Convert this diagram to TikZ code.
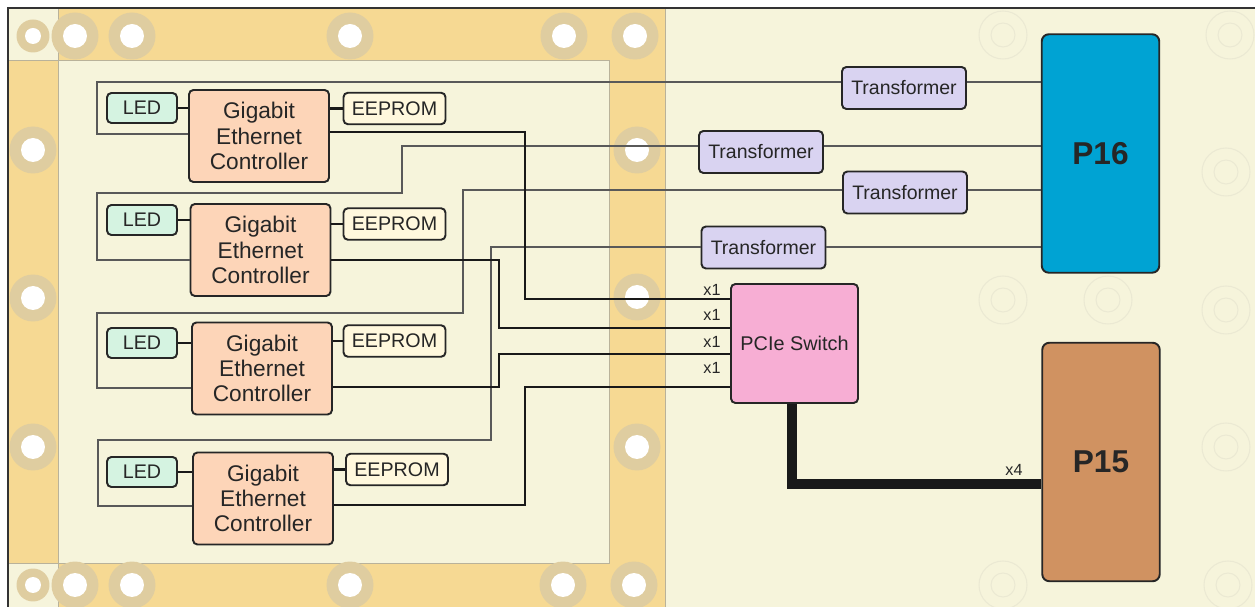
\documentclass[tikz,border=0pt]{standalone}
\usepackage{fontspec}
\setmainfont{Liberation Sans}
\definecolor{boardbg}{HTML}{F6F4DB}
\definecolor{bandfill}{HTML}{F6D993}
\definecolor{ringfill}{HTML}{DFCDA0}
\definecolor{edgeline}{HTML}{B9B29A}
\definecolor{faintline}{HTML}{EBE9D3}
\definecolor{ctrlfill}{HTML}{FDD5B8}
\definecolor{ledfill}{HTML}{D5F3E1}
\definecolor{eepromfill}{HTML}{FFF8DD}
\definecolor{xfmrfill}{HTML}{D9D3F1}
\definecolor{switchfill}{HTML}{F7AED4}
\definecolor{pxvi}{HTML}{00A3D3}
\definecolor{pxv}{HTML}{D09261}
\tikzset{
  box/.style={draw=black!85, line width=1.1pt, rounded corners=2.5pt, inner sep=0pt, align=center, text=black!85},
  ctrlbox/.style={box, fill=ctrlfill, minimum width=2.8cm, minimum height=1.84cm, font=\fontsize{12.9}{14.3}\selectfont},
  ledbox/.style={box, fill=ledfill, minimum width=1.4cm, minimum height=0.6cm, font=\fontsize{11.2}{13}\selectfont},
  eepbox/.style={box, fill=eepromfill, minimum width=2.04cm, minimum height=0.63cm, font=\fontsize{11.2}{13}\selectfont},
  xfmrbox/.style={box, fill=xfmrfill, minimum width=2.48cm, minimum height=0.84cm, font=\fontsize{11.1}{13}\selectfont},
  switchbox/.style={box, fill=switchfill, minimum width=2.54cm, minimum height=2.38cm, font=\fontsize{11.3}{13}\selectfont},
  connbox/.style={box, rounded corners=4pt, minimum width=2.35cm, minimum height=4.77cm, font=\bfseries\fontsize{18}{20}\selectfont},
  lanelbl/.style={inner sep=0pt, text=black!85, font=\fontsize{9.2}{11}\selectfont},
  mdi/.style={draw=black!65, line width=0.6pt},
  lane/.style={draw=black!90, line width=1.2pt},
  widelane/.style={draw=black!90, line width=5.5pt},
  faintring/.style={draw=faintline, line width=0.6pt}
}
\begin{document}
\begin{tikzpicture}[x=0.02cm, y=-0.02cm]
\useasboundingbox (0,0) rectangle (1255,607);
% board
\fill[boardbg] (8,8) rectangle (1262,612);
\fill[bandfill] (8,8) rectangle (665,612);
\fill[boardbg] (8,8) rectangle (58,60);
\fill[boardbg] (8,563) rectangle (58,612);
\fill[boardbg] (58,60) rectangle (609,563);
\draw[edgeline, line width=0.5pt] (58,8) -- (58,612);
\draw[edgeline, line width=0.5pt] (8,60) -- (609,60) -- (609,563) -- (8,563);
\draw[edgeline, line width=0.5pt] (665,8) -- (665,612);
\foreach \y in {36,585}
  {\fill[ringfill] (33,\y) circle (0.33cm); \fill[white] (33,\y) circle (0.16cm);}
\foreach \x/\y in {75/36,132/36,350/36,564/36,635/36,33/150,33/298,33/447,637/150,637/297,637/447,75/585,132/585,350/585,563/585,634/585}
  {\fill[ringfill] (\x,\y) circle (0.47cm); \fill[white] (\x,\y) circle (0.24cm);}
\foreach \x/\y in {1003/35,1230/35,1226/172,1003/300,1108/300,1226/310,1226/447,1003/585,1228/585}
  \draw[faintring] (\x,\y) circle (0.48cm) circle (0.24cm);
\draw[line width=1.5pt, black!80] (8,612) -- (8,8) -- (1262,8);

% controllers
\node[ctrlbox] (c1) at (259,136) {Gigabit\\Ethernet\\Controller};
\node[ctrlbox] (c2) at (260.5,250) {Gigabit\\Ethernet\\Controller};
\node[ctrlbox] (c3) at (262,368.5) {Gigabit\\Ethernet\\Controller};
\node[ctrlbox] (c4) at (263,498.5) {Gigabit\\Ethernet\\Controller};
\node[ledbox] (l1) at (142,108) {LED};
\node[ledbox] (l2) at (142,220) {LED};
\node[ledbox] (l3) at (142,343) {LED};
\node[ledbox] (l4) at (142,472) {LED};
\node[eepbox] (e1) at (394.5,108.5) {EEPROM};
\node[eepbox] (e2) at (394.5,224) {EEPROM};
\node[eepbox] (e3) at (394.5,341) {EEPROM};
\node[eepbox] (e4) at (397,469.5) {EEPROM};
\foreach \i in {1,...,4} {
  \draw[lane] (l\i.east) -- (l\i.east -| c\i.west);
  \draw[lane] (e\i.west) -- (e\i.west -| c\i.east);
}

\node[xfmrbox] (t1) at (904,88) {Transformer};
\node[xfmrbox] (t2) at (761,152) {Transformer};
\node[xfmrbox] (t3) at (905,192.5) {Transformer};
\node[xfmrbox] (t4) at (763.5,247.5) {Transformer};
\node[switchbox] (sw) at (794.5,343.5) {PCIe Switch};
\node[connbox, fill=pxvi] (p16) at (1100.5,153.5) {P16};
\node[connbox, fill=pxv] (p15) at (1101,462) {P15};

% MDI pairs
\draw[mdi] (c1.west |- 0,134) -- (97,134) -- (97,82) -- (t1.west |- 0,82);
\draw[mdi] (t1.east |- 0,82) -- (p16.west |- 0,82);
\draw[mdi] (c2.west |- 0,260) -- (97,260) -- (97,193) -- (402,193) -- (402,146) -- (t2.west |- 0,146);
\draw[mdi] (t2.east |- 0,146) -- (p16.west |- 0,146);
\draw[mdi] (c3.west |- 0,388) -- (97,388) -- (97,313) -- (463,313) -- (463,190) -- (t3.west |- 0,190);
\draw[mdi] (t3.east |- 0,190) -- (p16.west |- 0,190);
\draw[mdi] (c4.west |- 0,506) -- (98,506) -- (98,440) -- (491,440) -- (491,247) -- (t4.west |- 0,247);
\draw[mdi] (t4.east |- 0,247) -- (p16.west |- 0,247);

% PCIe lanes
\draw[lane] (c1.east |- 0,132) -- (525,132) -- (525,299) -- (sw.west |- 0,299);
\draw[lane] (c2.east |- 0,260) -- (499,260) -- (499,328) -- (sw.west |- 0,328);
\draw[lane] (c3.east |- 0,387) -- (499,387) -- (499,354) -- (sw.west |- 0,354);
\draw[lane] (c4.east |- 0,505) -- (525,505) -- (525,387) -- (sw.west |- 0,387);
\draw[widelane] (sw.south -| 792,0) -- (792,484) -- (p15.west |- 0,484);
\node[lanelbl] (q1) at (712,290) {x1};
\node[lanelbl] (q2) at (712,315) {x1};
\node[lanelbl] (q3) at (712,342) {x1};
\node[lanelbl] (q4) at (712,368) {x1};
\node[lanelbl] (q5) at (1014,470) {x4};
\end{tikzpicture}
\end{document}
